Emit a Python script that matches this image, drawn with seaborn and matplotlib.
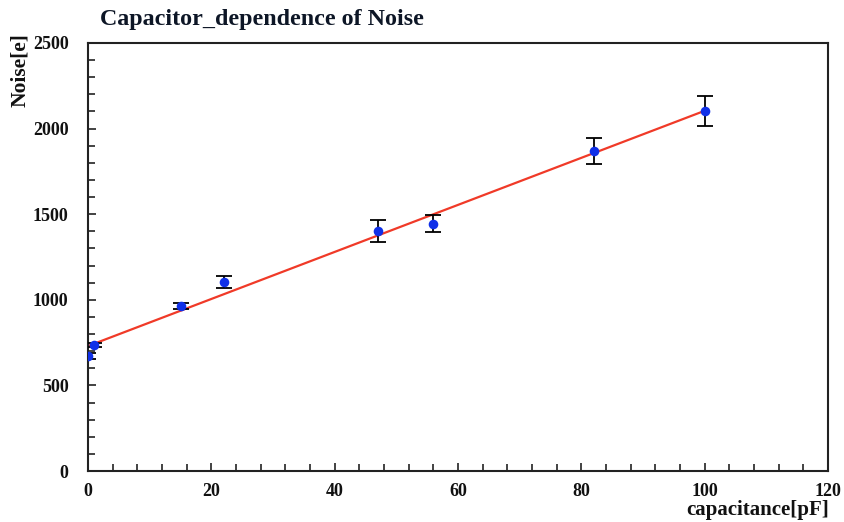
import numpy as np
import pandas as pd
import matplotlib
matplotlib.use("Agg")
import matplotlib.pyplot as plt
from matplotlib.ticker import MultipleLocator
import seaborn as sns

# Measured noise versus input capacitance
capacitance = [0, 1, 15, 22, 47, 56, 82, 100]
noise = [672, 738, 964, 1104, 1403, 1445, 1869, 2104]
noise_err = [15, 12, 20, 35, 65, 50, 78, 88]

# Linear fit of noise vs capacitance
fit_intercept = 730
fit_slope = 13.74
fit_range = [0, 100]

x_ticks = [0, 20, 40, 60, 80, 100, 120]
y_ticks = [0, 500, 1000, 1500, 2000, 2500]

sns.set_theme(style="ticks")
plt.rcParams["font.family"] = ["Liberation Serif", "DejaVu Serif"]
plt.rcParams["font.weight"] = "bold"

df = pd.DataFrame({"C": capacitance, "N": noise, "err": noise_err})
fit_x = np.array(fit_range, dtype=float)
fit_df = pd.DataFrame({"C": fit_x, "N": fit_intercept + fit_slope * fit_x})

fig = plt.figure(figsize=(8.44, 5.22), dpi=100)
ax = fig.add_axes([88 / 844, 51 / 522, 740 / 844, 428 / 522])

sns.lineplot(data=fit_df, x="C", y="N", ax=ax, color="#f03a28", linewidth=1.6, zorder=2)
ax.errorbar(df["C"], df["N"], yerr=df["err"], fmt="none", ecolor="black",
            elinewidth=1.3, capsize=5.5, capthick=1.3, zorder=3)
sns.scatterplot(data=df, x="C", y="N", ax=ax, color="#1030e8", s=48,
                edgecolor="#1030e8", linewidth=0, zorder=4)

ax.set_xlim(0, 120)
ax.set_ylim(0, 2500)
ax.set_xticks(x_ticks)
ax.set_yticks(y_ticks)
ax.xaxis.set_minor_locator(MultipleLocator(4))
ax.yaxis.set_minor_locator(MultipleLocator(100))
ax.tick_params(which="both", direction="in", width=1.2, colors="#222222",
               labelcolor="#111111", labelsize=13, top=False, right=False)
ax.tick_params(which="major", length=6)
ax.tick_params(which="minor", length=5)
ax.tick_params(axis="x", pad=9)
ax.tick_params(axis="y", pad=14)
for lbl in ax.get_xticklabels() + ax.get_yticklabels():
    lbl.set_fontweight("bold")
for sp in ax.spines.values():
    sp.set_visible(True)
    sp.set_linewidth(1.5)
    sp.set_color("#222222")

ax.set_xlabel("")
ax.set_ylabel("")

fig.text(100 / 844, 1 - 20 / 522, "Capacitor_dependence of Noise", ha="left", va="center",
         fontsize=17.3, fontweight="bold", color="#0d1626")
fig.text(20 / 844, 1 - 70 / 522, "Noise[e]", rotation=90, ha="center", va="center",
         fontsize=15.5, fontweight="bold", color="#111111")
fig.text(829 / 844, 1 - 510 / 522, "capacitance[pF]", ha="right", va="center",
         fontsize=15, fontweight="bold", color="#111111")

fig.savefig("out.png", dpi=100)
